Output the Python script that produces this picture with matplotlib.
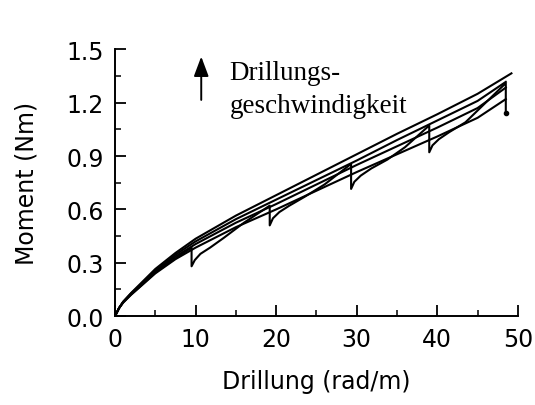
import matplotlib.pyplot as plt
from matplotlib.ticker import MultipleLocator

# smooth curves, constant twist rate
x_a = [0, 0.5, 1, 2, 3, 5, 7.5, 10, 15, 20, 25, 30, 35, 40, 45, 49.2]
y_a = [0, 0.045, 0.08, 0.13, 0.175, 0.265, 0.355, 0.435, 0.565, 0.68, 0.795, 0.91, 1.025, 1.135, 1.25, 1.365]

x_bcd = [0, 0.5, 1, 2, 3, 5, 7.5, 10, 15, 20, 25, 30, 35, 40, 45, 48.5]
y_b = [0, 0.045, 0.08, 0.128, 0.17, 0.255, 0.345, 0.42, 0.545, 0.655, 0.765, 0.875, 0.99, 1.10, 1.21, 1.317]
y_c = [0, 0.045, 0.078, 0.125, 0.165, 0.25, 0.335, 0.405, 0.525, 0.63, 0.74, 0.85, 0.955, 1.06, 1.17, 1.285]
y_d = [0, 0.045, 0.075, 0.12, 0.16, 0.24, 0.32, 0.385, 0.50, 0.60, 0.705, 0.81, 0.91, 1.01, 1.115, 1.22]

# stepped curve with relaxation drops
x_z = [0, 0.5, 1, 2, 3, 5, 7.5, 9.5,
       9.5, 9.9, 10.6, 11.8, 13.5, 16, 19.2,
       19.2, 19.6, 20.4, 21.6, 23.5, 26, 29.3,
       29.3, 29.7, 30.5, 31.8, 33.8, 36, 39,
       39, 39.4, 40.2, 41.5, 43.5, 46, 48.5,
       48.5]
y_z = [0, 0.045, 0.077, 0.122, 0.162, 0.245, 0.325, 0.385,
       0.28, 0.315, 0.35, 0.385, 0.44, 0.525, 0.621,
       0.51, 0.55, 0.585, 0.62, 0.67, 0.74, 0.856,
       0.715, 0.755, 0.79, 0.83, 0.88, 0.95, 1.072,
       0.921, 0.96, 0.995, 1.035, 1.09, 1.2, 1.31,
       1.14]

fig = plt.figure(figsize=(5.35, 4.06), dpi=100)
ax = fig.add_axes([0.215, 0.219, 0.753, 0.657])

for xs, ys in [(x_a, y_a), (x_bcd, y_b), (x_bcd, y_c), (x_bcd, y_d), (x_z, y_z)]:
    ax.plot(xs, ys, color="black", lw=1.5)
ax.plot([x_z[-1]], [y_z[-1]], "o", color="black", ms=3)

ax.set_xlim(0, 50)
ax.set_ylim(0, 1.5)
ax.xaxis.set_major_locator(MultipleLocator(10))
ax.xaxis.set_minor_locator(MultipleLocator(5))
ax.yaxis.set_major_locator(MultipleLocator(0.3))
ax.yaxis.set_minor_locator(MultipleLocator(0.15))
ax.yaxis.set_major_formatter(plt.FormatStrFormatter("%.1f"))

ax.spines["top"].set_visible(False)
ax.spines["right"].set_visible(False)
for s in ["left", "bottom"]:
    ax.spines[s].set_linewidth(1.4)
ax.tick_params(which="major", direction="in", length=8, width=1.3, labelsize=17, pad=8)
ax.tick_params(which="minor", direction="in", length=4.5, width=1.1)

ax.set_xlabel("Drillung (rad/m)", fontsize=17, labelpad=13)
ax.set_ylabel("Moment (Nm)", fontsize=17, labelpad=20)

ax.annotate("", xy=(10.7, 1.475), xytext=(10.7, 1.2),
            arrowprops=dict(arrowstyle="-|>,head_length=1.2,head_width=0.45", color="black", lw=1.4))
ax.text(14.2, 1.335, "Drillungs-", family="Liberation Serif", fontsize=19.5, va="baseline")
ax.text(14.2, 1.15, "geschwindigkeit", family="Liberation Serif", fontsize=19.5, va="baseline")

plt.savefig("out.png")
